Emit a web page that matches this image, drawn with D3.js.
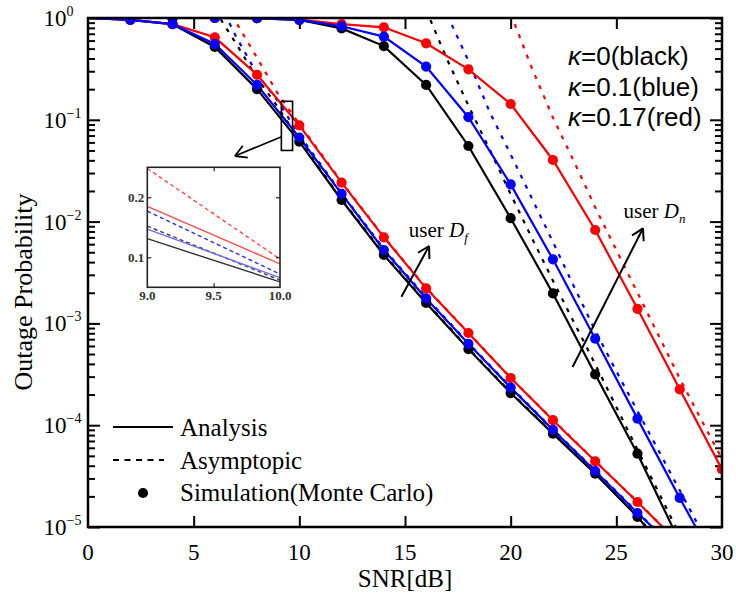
<!DOCTYPE html>
<html>
<head>
<meta charset="utf-8">
<script src="https://cdn.jsdelivr.net/npm/d3@7"></script>
<style>
  html, body { margin: 0; padding: 0; background: #ffffff; }
  svg { display: block; }
</style>
</head>
<body>
<svg id="chart" width="736" height="594"></svg>
<script>
// ---------------- data ----------------
// SNR grid (dB) of the analytical curves
const snr = [0, 2, 4, 6, 8, 10, 12, 14, 16, 18, 20, 22, 24, 26, 28, 30];
// SNR points where Monte Carlo results are plotted
const simSnr = [2, 4, 6, 8, 10, 12, 14, 16, 18, 20, 22, 24, 26, 28, 30];

// far user D_f, analysis (kappa = 0, 0.1, 0.17)
const dfBlack = [1, 0.96, 0.87, 0.52, 0.2, 0.061, 0.0163, 0.0047, 0.00159, 5.6e-4, 2.07e-4, 8.26e-5, 3.34e-5, 1.26e-5, 4.0e-6, null];
const dfBlue  = [1, 0.96, 0.87, 0.555, 0.22, 0.067, 0.0187, 0.00526, 0.00176, 6.3e-4, 2.34e-4, 9.0e-5, 3.55e-5, 1.37e-5, 5.6e-6, null];
const dfRed   = [1, 0.96, 0.87, 0.646, 0.277, 0.088, 0.0241, 0.00701, 0.00221, 8.05e-4, 2.91e-4, 1.12e-4, 4.42e-5, 1.76e-5, 6.8e-6, null];

// near user D_n, analysis
const dnBlack = [1, 1, 1, 1, 0.995, 0.955, 0.79, 0.53, 0.22, 0.0553, 0.0108, 0.00197, 3.16e-4, 5.25e-5, 7.1e-6, null];
const dnBlue  = [1, 1, 1, 1, 0.997, 0.96, 0.83, 0.656, 0.333, 0.106, 0.0232, 0.00426, 7.08e-4, 1.16e-4, 1.93e-5, 3.4e-6];
const dnRed   = [1, 1, 1, 1, 0.998, 0.965, 0.87, 0.81, 0.564, 0.313, 0.143, 0.0403, 0.00827, 0.00139, 2.25e-4, 3.68e-5];

// asymptotic outage of D_f
const dfAsymSnr   = [6, 7, 8, 9, 10, 12, 14, 16, 18, 20, 22, 24, 26, 28];
const dfAsymBlack = [1.2, 0.562, 0.257, 0.132, 0.063, 0.0166, 0.0048, 0.00161, 5.7e-4, 2.1e-4, 8.4e-5, 3.4e-5, 1.28e-5, 4.1e-6];
const dfAsymBlue  = [1.74, 0.66, 0.282, 0.151, 0.0708, 0.019, 0.0054, 0.0018, 6.4e-4, 2.38e-4, 9.1e-5, 3.6e-5, 1.39e-5, 5.7e-6];
const dfAsymRed   = [2.04, 0.912, 0.407, 0.178, 0.0912, 0.0245, 0.0071, 0.00224, 8.1e-4, 2.93e-4, 1.13e-4, 4.45e-5, 1.77e-5, 6.9e-6];

// asymptotic outage of D_n
const dnAsymSnr   = [16, 17, 18, 19, 20, 21, 22, 23, 24, 25, 26, 27, 28, 29, 30];
const dnAsymBlack = [1.2, 0.389, 0.138, 0.0513, 0.0186, 0.00692, 0.00263, 0.00102, 3.98e-4, 1.51e-4, 5.75e-5, 2.19e-5, 8.3e-6, null, null];
const dnAsymBlue  = [null, 1.07, 0.38, 0.12, 0.0457, 0.017, 0.00631, 0.00229, 8.51e-4, 3.39e-4, 1.38e-4, 5.62e-5, 2.29e-5, 9.3e-6, null];
const dnAsymRed   = [null, null, null, null, 1.1, 0.324, 0.105, 0.0389, 0.0138, 0.00525, 0.002, 7.59e-4, 2.88e-4, 1.15e-4, 4.68e-5];

// magnified view of D_f around 9-10 dB
const insetSnr        = [9.0, 10.0];
const insetBlack      = [0.131, 0.059];
const insetBlue       = [0.147, 0.066];
const insetRed        = [0.185, 0.089];
const insetAsymBlack  = [0.152, 0.062];
const insetAsymBlue   = [0.177, 0.072];
const insetAsymRed    = [0.248, 0.097];

// axis ticks
const xTicks = [0, 5, 10, 15, 20, 25, 30];
const yExponents = [0, -1, -2, -3, -4, -5];
const insetXTicks = [9.0, 9.5, 10.0];
const insetYTicks = [0.1, 0.2];

// text
const kappaLabels = ["=0(black)", "=0.1(blue)", "=0.17(red)"];
const legendLabels = ["Analysis", "Asymptopic", "Simulation(Monte Carlo)"];

// ---------------- layout ----------------
const plot = { left: 88, right: 722, top: 18, bottom: 527 };
const COLORS = { black: "#000000", blue: "#0000ff", red: "#ff0000" };
const SERIF = "'Liberation Serif', 'Times New Roman', serif";
const SANS = "'Liberation Sans', Arial, sans-serif";

const x = d3.scaleLinear().domain([0, 30]).range([plot.left, plot.right]);
const y = d3.scaleLog().domain([1e-5, 1]).range([plot.bottom, plot.top]);

const svg = d3.select("#chart");
const defs = svg.append("defs");
defs.append("clipPath").attr("id", "plotClip").append("rect")
  .attr("x", plot.left).attr("y", plot.top)
  .attr("width", plot.right - plot.left).attr("height", plot.bottom - plot.top);

const zip = (xs, ys) => xs.map((v, i) => [v, ys[i]]);
const line = d3.line()
  .defined(d => d[1] != null)
  .x(d => x(d[0]))
  .y(d => y(d[1]));

// ---------------- axes ----------------
const axes = svg.append("g");
function styleAxis(g) {
  g.select(".domain").remove();
  g.selectAll(".tick line").attr("stroke", "#000").attr("stroke-width", 2);
}
const innerX = xTicks.filter(v => v > 0 && v < 30);
axes.append("g").attr("transform", `translate(0,${plot.bottom})`)
  .call(d3.axisBottom(x).tickValues(innerX).tickSize(-11).tickFormat(""))
  .call(styleAxis);
axes.append("g").attr("transform", `translate(0,${plot.top})`)
  .call(d3.axisTop(x).tickValues(innerX).tickSize(-11).tickFormat(""))
  .call(styleAxis);

const decades = yExponents.map(e => Math.pow(10, e));
const minors = [];
yExponents.slice(1).forEach(e => {
  for (let m = 2; m <= 9; m++) minors.push(m * Math.pow(10, e));
});
[[d3.axisLeft, plot.left], [d3.axisRight, plot.right]].forEach(([axisFn, pos]) => {
  axes.append("g").attr("transform", `translate(${pos},0)`)
    .call(axisFn(y).tickValues(decades).tickSize(-12).tickFormat(""))
    .call(styleAxis);
  axes.append("g").attr("transform", `translate(${pos},0)`)
    .call(axisFn(y).tickValues(minors).tickSize(-7).tickFormat(""))
    .call(styleAxis);
});

// tick labels
svg.append("g").selectAll("text").data(xTicks).join("text")
  .attr("x", d => x(d)).attr("y", plot.bottom + 33)
  .attr("text-anchor", "middle")
  .attr("font-family", SERIF).attr("font-size", 23)
  .text(d => d);

const yl = svg.append("g").selectAll("text").data(yExponents).join("text")
  .attr("x", 43.5).attr("y", d => y(Math.pow(10, d)) + 8)
  .attr("font-family", SERIF).attr("font-size", 23);
yl.append("tspan").text("10");
yl.append("tspan").attr("dy", -10).attr("font-size", 14)
  .text(d => d === 0 ? "0" : "\u2212" + Math.abs(d));

// axis titles
svg.append("text")
  .attr("x", (plot.left + plot.right) / 2).attr("y", 587)
  .attr("text-anchor", "middle")
  .attr("font-family", SERIF).attr("font-size", 25)
  .text("SNR[dB]");
svg.append("text")
  .attr("transform", `translate(32,292) rotate(-90)`)
  .attr("text-anchor", "middle")
  .attr("font-family", SERIF).attr("font-size", 26)
  .text("Outage Probability");

// ---------------- curves ----------------
const data = svg.append("g").attr("clip-path", "url(#plotClip)");

const asymSeries = [
  { xs: dfAsymSnr, ys: dfAsymBlack, c: COLORS.black },
  { xs: dnAsymSnr, ys: dnAsymBlack, c: COLORS.black },
  { xs: dfAsymSnr, ys: dfAsymRed, c: COLORS.red },
  { xs: dnAsymSnr, ys: dnAsymRed, c: COLORS.red },
  { xs: dfAsymSnr, ys: dfAsymBlue, c: COLORS.blue },
  { xs: dnAsymSnr, ys: dnAsymBlue, c: COLORS.blue }
];
data.append("g").selectAll("path").data(asymSeries).join("path")
  .attr("d", s => line(zip(s.xs, s.ys)))
  .attr("fill", "none").attr("stroke", s => s.c)
  .attr("stroke-width", 2.2).attr("stroke-dasharray", "4,7");

const anaSeries = [
  { ys: dfBlack, c: COLORS.black },
  { ys: dnBlack, c: COLORS.black },
  { ys: dfRed, c: COLORS.red },
  { ys: dnRed, c: COLORS.red },
  { ys: dfBlue, c: COLORS.blue },
  { ys: dnBlue, c: COLORS.blue }
];
data.append("g").selectAll("path").data(anaSeries).join("path")
  .attr("d", s => line(zip(snr, s.ys)))
  .attr("fill", "none").attr("stroke", s => s.c)
  .attr("stroke-width", 2.2);

// Monte Carlo points lie on the analytical values at the simulated SNRs
const simPoints = [];
anaSeries.forEach(s => {
  simSnr.forEach(v => {
    const val = s.ys[snr.indexOf(v)];
    if (val != null) simPoints.push({ x: v, y: val, c: s.c });
  });
});
data.append("g").selectAll("circle").data(simPoints).join("circle")
  .attr("cx", d => x(d.x)).attr("cy", d => y(d.y))
  .attr("r", 5.1).attr("fill", d => d.c);

// plot frame
svg.append("rect")
  .attr("x", plot.left).attr("y", plot.top)
  .attr("width", plot.right - plot.left).attr("height", plot.bottom - plot.top)
  .attr("fill", "none").attr("stroke", "#000").attr("stroke-width", 2.5);

// ---------------- annotations ----------------
function arrow(g, x0, y0, x1, y1, width) {
  g.append("line").attr("x1", x0).attr("y1", y0).attr("x2", x1).attr("y2", y1)
    .attr("stroke", "#000").attr("stroke-width", width);
  const ang = Math.atan2(y0 - y1, x0 - x1);
  const len = 13, spread = Math.PI / 6;
  [ang - spread, ang + spread].forEach(a => {
    g.append("line").attr("x1", x1).attr("y1", y1)
      .attr("x2", x1 + len * Math.cos(a)).attr("y2", y1 + len * Math.sin(a))
      .attr("stroke", "#000").attr("stroke-width", width);
  });
}
const ann = svg.append("g");

// box around the magnified region and pointer to the inset
ann.append("rect")
  .attr("x", x(9.15)).attr("y", y(0.152))
  .attr("width", x(9.68) - x(9.15)).attr("height", y(0.05) - y(0.152))
  .attr("fill", "none").attr("stroke", "#000").attr("stroke-width", 1.6);
arrow(ann, x(9.16), y(0.0682), x(6.95), y(0.0441), 1.8);

// user arrows
arrow(ann, x(14.83), y(0.00183), x(16.14), y(0.00576), 2);
arrow(ann, x(22.93), y(3.73e-4), x(26.26), y(0.00859), 2);

function userLabel(px, py, sub) {
  const t = ann.append("text").attr("x", px).attr("y", py)
    .attr("font-family", SERIF).attr("font-size", 21);
  t.append("tspan").text("user ");
  t.append("tspan").attr("font-style", "italic").text("D");
  t.append("tspan").attr("font-style", "italic").attr("font-size", 13).attr("dy", 5).text(sub);
}
userLabel(x(15.18), y(0.00711), "f");
userLabel(x(25.34), y(0.0108), "n");

// kappa key
const kap = ann.append("g").selectAll("text").data(kappaLabels).join("text")
  .attr("x", 568).attr("y", (d, i) => 65 + i * 30.5)
  .attr("font-family", SANS).attr("font-size", 26);
kap.append("tspan").attr("font-style", "italic").text("\u03ba");
kap.append("tspan").text(d => d);

// legend
const leg = svg.append("g");
leg.append("line").attr("x1", 113).attr("x2", 173).attr("y1", 427).attr("y2", 427)
  .attr("stroke", "#000").attr("stroke-width", 2.2);
leg.append("line").attr("x1", 113).attr("x2", 164).attr("y1", 460).attr("y2", 460)
  .attr("stroke", "#000").attr("stroke-width", 2).attr("stroke-dasharray", "6,5.5");
leg.append("circle").attr("cx", 143).attr("cy", 493).attr("r", 5.1).attr("fill", "#000");
leg.selectAll("text").data(legendLabels).join("text")
  .attr("x", 180).attr("y", (d, i) => 436 + i * 32.5)
  .attr("font-family", SERIF).attr("font-size", 25)
  .text(d => d);

// ---------------- inset ----------------
const ibox = { left: 147.3, right: 280, top: 167.3, bottom: 287.3 };
const ix = d3.scaleLinear().domain([9, 10]).range([ibox.left, ibox.right]);
const iy = d3.scaleLinear().domain([0.05, 0.25]).range([ibox.bottom, ibox.top]);
defs.append("clipPath").attr("id", "insetClip").append("rect")
  .attr("x", ibox.left).attr("y", ibox.top)
  .attr("width", ibox.right - ibox.left).attr("height", ibox.bottom - ibox.top);

const inset = svg.append("g");
inset.append("rect")
  .attr("x", ibox.left).attr("y", ibox.top)
  .attr("width", ibox.right - ibox.left).attr("height", ibox.bottom - ibox.top)
  .attr("fill", "#fff");

const iline = d3.line().x(d => ix(d[0])).y(d => iy(d[1]));
const insetSeries = [
  { ys: insetBlack, c: "#333333", dash: null },
  { ys: insetAsymBlack, c: "#444444", dash: "4,3" },
  { ys: insetBlue, c: "#6b6bff", dash: null },
  { ys: insetAsymBlue, c: "#2a2aff", dash: "4,3" },
  { ys: insetRed, c: "#ff4a4a", dash: null },
  { ys: insetAsymRed, c: "#ff4a4a", dash: "4,3" }
];
inset.append("g").attr("clip-path", "url(#insetClip)")
  .selectAll("path").data(insetSeries).join("path")
  .attr("d", s => iline(zip(insetSnr, s.ys)))
  .attr("fill", "none").attr("stroke", s => s.c)
  .attr("stroke-width", 1.4)
  .attr("stroke-dasharray", s => s.dash);

function styleInsetAxis(g) {
  g.select(".domain").remove();
  g.selectAll(".tick line").attr("stroke", "#222").attr("stroke-width", 1.2);
}
const mid = insetXTicks.filter(v => v > 9 && v < 10);
inset.append("g").attr("transform", `translate(0,${ibox.bottom})`)
  .call(d3.axisBottom(ix).tickValues(mid).tickSize(-4).tickFormat("")).call(styleInsetAxis);
inset.append("g").attr("transform", `translate(0,${ibox.top})`)
  .call(d3.axisTop(ix).tickValues(mid).tickSize(-4).tickFormat("")).call(styleInsetAxis);
inset.append("g").attr("transform", `translate(${ibox.left},0)`)
  .call(d3.axisLeft(iy).tickValues(insetYTicks).tickSize(-4).tickFormat("")).call(styleInsetAxis);
inset.append("g").attr("transform", `translate(${ibox.right},0)`)
  .call(d3.axisRight(iy).tickValues(insetYTicks).tickSize(-4).tickFormat("")).call(styleInsetAxis);

inset.append("rect")
  .attr("x", ibox.left).attr("y", ibox.top)
  .attr("width", ibox.right - ibox.left).attr("height", ibox.bottom - ibox.top)
  .attr("fill", "none").attr("stroke", "#222").attr("stroke-width", 1.6);

inset.append("g").selectAll("text").data(insetXTicks).join("text")
  .attr("x", d => ix(d)).attr("y", ibox.bottom + 13)
  .attr("text-anchor", "middle")
  .attr("font-family", SERIF).attr("font-size", 13).attr("font-weight", "bold").attr("fill", "#333")
  .text(d => d.toFixed(1));
inset.append("g").selectAll("text").data(insetYTicks).join("text")
  .attr("x", ibox.left - 3).attr("y", d => iy(d) + 4.5)
  .attr("text-anchor", "end")
  .attr("font-family", SERIF).attr("font-size", 13).attr("font-weight", "bold").attr("fill", "#333")
  .text(d => d.toFixed(1));
</script>
</body>
</html>
